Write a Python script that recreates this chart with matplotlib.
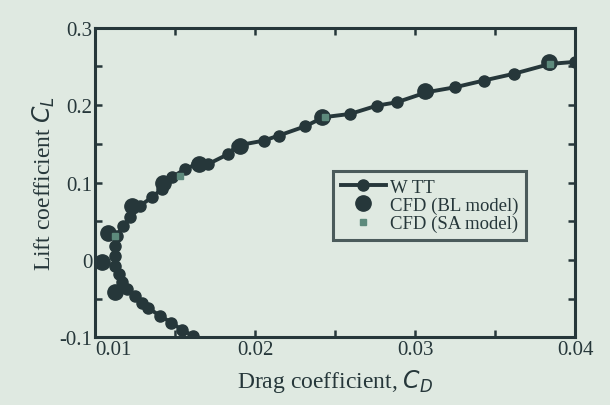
import matplotlib
matplotlib.use('Agg')
import matplotlib.pyplot as plt
import numpy as np

# wind tunnel test (WTT)
wtt_cd = [0.01614, 0.01542, 0.01475, 0.01406, 0.01333, 0.01292, 0.01250, 0.01198,
          0.01167, 0.01146, 0.01125, 0.01125, 0.01125, 0.01135, 0.01177, 0.01219,
          0.01281, 0.01354, 0.01417, 0.01479, 0.01563, 0.01635, 0.01708, 0.01833,
          0.01885, 0.02052, 0.02146, 0.02313, 0.02427, 0.02594, 0.02761, 0.02886,
          0.03073, 0.03250, 0.03427, 0.03615, 0.03844, 0.04000]
wtt_cl = [-0.0983, -0.0905, -0.0810, -0.0724, -0.0625, -0.0560, -0.0473, -0.0379,
          -0.0292, -0.0184, -0.0077, 0.0053, 0.0182, 0.0311, 0.0441, 0.0550,
          0.0700, 0.0808, 0.0916, 0.1067, 0.1175, 0.1240, 0.1240, 0.1369,
          0.1477, 0.1541, 0.1606, 0.1727, 0.1844, 0.1887, 0.1994, 0.2038,
          0.2168, 0.2232, 0.2318, 0.2405, 0.2534, 0.2560]
# CFD, BL model
bl_cd = [0.01042, 0.01083, 0.01125, 0.01229, 0.01427, 0.01646, 0.01906, 0.02417, 0.03063, 0.03833]
bl_cl = [-0.0033, 0.0346, -0.0420, 0.0700, 0.1000, 0.1240, 0.1477, 0.1844, 0.2189, 0.2556]
# CFD, SA model
sa_cd = [0.01125, 0.01531, 0.02438, 0.03844]
sa_cl = [0.0311, 0.1088, 0.1844, 0.2534]

bg = '#dfe9e1'
ink = '#26373a'
plt.rcParams['font.family'] = ['Liberation Serif', 'DejaVu Serif']

fig = plt.figure(figsize=(6.1, 4.06), dpi=100, facecolor=bg)
ax = fig.add_axes([0.156, 0.167, 0.787, 0.762], facecolor=bg)

ax.plot(wtt_cd, wtt_cl, '-o', color=ink, lw=2.8, ms=8, label='W TT', zorder=2)
ax.plot(bl_cd, bl_cl, 'o', color=ink, ms=11, ls='none', label='CFD (BL model)', zorder=3)
ax.plot(sa_cd, sa_cl, 's', color='#5d8a7c', ms=4.5, ls='none', label='CFD (SA model)', zorder=4)

ax.set_xlim(0.01, 0.04)
ax.set_ylim(-0.1, 0.3)
ax.set_xticks([0.01, 0.02, 0.03, 0.04])
ax.set_xticklabels(['0.01', '0.02', '0.03', '0.04'])
ax.set_xticks(np.arange(0.01, 0.0401, 0.005), minor=True)
ax.set_yticks([-0.1, 0, 0.1, 0.2, 0.3])
ax.set_yticklabels(['-0.1', '0', '0.1', '0.2', '0.3'])
ax.set_yticks(np.arange(-0.1, 0.301, 0.05), minor=True)
ax.tick_params(which='both', direction='in', top=True, right=True, length=5, width=1.8,
               labelsize=15, colors=ink, pad=2)
for s in ax.spines.values():
    s.set_linewidth(2.2)
    s.set_color(ink)
# nudge the corner labels apart a little
ax.get_xticklabels()[0].set_horizontalalignment('left')
ax.get_xticklabels()[0].set_x(0.0101)

ax.set_xlabel('Drag coefficient, $C_D$', fontsize=17, color=ink, labelpad=6)
ax.set_ylabel('Lift coefficient $C_L$', fontsize=17, color=ink, labelpad=2)

leg = ax.legend(loc='upper left', bbox_to_anchor=(0.496, 0.537), fontsize=13.5,
                frameon=True, fancybox=False, borderpad=0.4, labelspacing=0.05,
                handlelength=2.4, handletextpad=0.2, borderaxespad=0)
leg.get_frame().set_edgecolor(ink)
leg.get_frame().set_linewidth(2.2)
leg.get_frame().set_facecolor(bg)
for t in leg.get_texts():
    t.set_color(ink)

fig.savefig('out.png', dpi=100, facecolor=bg)
